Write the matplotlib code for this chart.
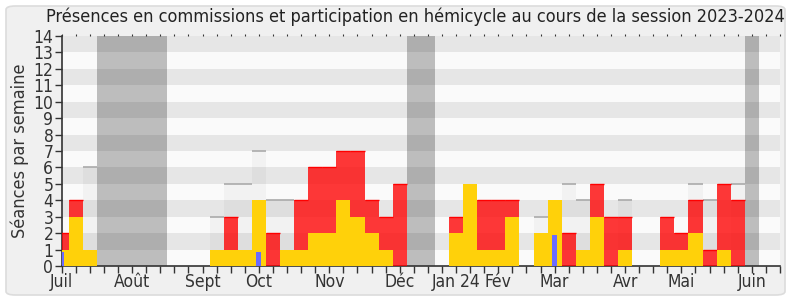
import matplotlib
matplotlib.use('Agg')
import matplotlib.pyplot as plt
from matplotlib.patches import FancyBboxPatch
import numpy as np

# une valeur par semaine, semaine 0 = début juillet 2023
weeks = np.arange(52)
commission = [2, 4, 0, 0, 0, 0, 0, 0, 0, 0, 0, 0, 3, 0, 0, 2, 0, 4, 6, 6,
              7, 7, 4, 3, 5, 0, 0, 0, 3, 0, 4, 4, 4, 0, 0, 0, 2, 0, 5, 3,
              3, 0, 0, 3, 2, 4, 1, 5, 4, 0, 0, 0]
hemicycle = [1, 3, 1, 0, 0, 0, 0, 0, 0, 0, 0, 1, 1, 1, 4, 0, 1, 1, 2, 2,
             4, 3, 2, 1, 0, 0, 0, 0, 2, 5, 1, 1, 3, 0, 2, 4, 0, 1, 3, 0,
             1, 0, 0, 1, 1, 2, 0, 1, 0, 0, 0, 0]
# séances de commission (barres claires), seulement là où on les voit
total_weeks = [2, 11, 12, 13, 14, 15, 16, 34, 36, 37, 40, 45, 46, 48]
total_vals = [6, 3, 5, 5, 7, 4, 4, 3, 5, 4, 4, 5, 4, 5]
# questions (barres bleues)
quest_weeks = [0, 14, 35]
quest_vals = [0.87, 0.87, 1.89]
# vacances parlementaires
vacances = [3, 4, 5, 6, 7, 25, 26, 49]

month_weeks = [0, 5, 10, 14, 19, 24, 28, 31, 35, 40, 44, 49]
month_labels = ['Juil', 'Août', 'Sept', 'Oct', 'Nov', 'Déc', 'Jan 24', 'Fév',
                'Mar', 'Avr', 'Mai', 'Juin']

plt.rcParams['font.family'] = ['DejaVu Sans']
plt.rcParams['font.stretch'] = 'condensed'

fig = plt.figure(figsize=(7.9, 3.0), dpi=100)
fig.patch.set_facecolor('white')
frame = FancyBboxPatch((6 / 790, 5 / 300), 779 / 790, 289 / 300,
                       boxstyle='round,pad=0,rounding_size=0.012',
                       transform=fig.transFigure, facecolor='#f0f0f0',
                       edgecolor='#dcdcdc', linewidth=1.2, zorder=-10)
fig.patches.append(frame)

ax = fig.add_axes([61.7 / 790, 1 - 266 / 300, (780 - 61.7) / 790, 230 / 300])
ax.set_zorder(5)
ax.set_facecolor('#fafafa')

# bandes horizontales
for k in range(1, 14, 2):
    ax.axhspan(k, k + 1, color='#e6e6e6', lw=0, zorder=0)

# vacances
for w in vacances:
    ax.bar(w, 14, width=1.0, color='black', alpha=0.245, lw=0, zorder=1)

# total commission (fond clair + trait gris en haut)
ax.bar(total_weeks, total_vals, width=1.0, color='black', alpha=0.03, lw=0, zorder=2)
ax.hlines(total_vals, np.array(total_weeks) - 0.5, np.array(total_weeks) + 0.5,
          colors='#aaaaaa', lw=1.2, zorder=2)

# présences commission
red = [c if c > 0 else np.nan for c in commission]
ax.bar(weeks, red, width=1.0, color='#ff0000', alpha=0.78, lw=0, zorder=3)
ax.hlines(red, weeks - 0.5, weeks + 0.5, colors='#ff0000', lw=1.0, zorder=3)

# participation hémicycle
ax.bar(weeks, hemicycle, width=1.0, color='#ffd10a', lw=0, zorder=4)

# questions
ax.bar(quest_weeks, quest_vals, width=0.35, color='#6b6bff', lw=0, zorder=5)

ax.set_xlim(0, 51)
ax.set_ylim(0, 14)
ax.set_yticks(range(15))
ax.tick_params(axis='y', length=5, width=1, color='#333333', labelsize=12.5,
               labelcolor='#333333', pad=1)
xlabels = [''] * len(weeks)
for w, lab in zip(month_weeks, month_labels):
    xlabels[w] = lab
ax.set_xticks(weeks)
ax.set_xticklabels(xlabels)
ax.tick_params(axis='x', length=5, width=1, color='#333333', labelsize=12.5,
               labelcolor='#333333', pad=0, top=True)
for t in ax.xaxis.get_major_ticks():
    t.tick2line.set_markersize(1.5)
    t.tick2line.set_markeredgewidth(0.8)

for s in ['top', 'right']:
    ax.spines[s].set_visible(False)
for s in ['left', 'bottom']:
    ax.spines[s].set_color('#333333')
    ax.spines[s].set_linewidth(1.2)

ax.set_ylabel('Séances par semaine', fontsize=13, color='#333333', labelpad=3)
fig.text(415 / 790, 1 - 17 / 300,
         'Présences en commissions et participation en hémicycle au cours de la session 2023-2024',
         ha='center', va='center', fontsize=13, color='#222222')

fig.savefig('out.png', dpi=100, facecolor=fig.get_facecolor())
